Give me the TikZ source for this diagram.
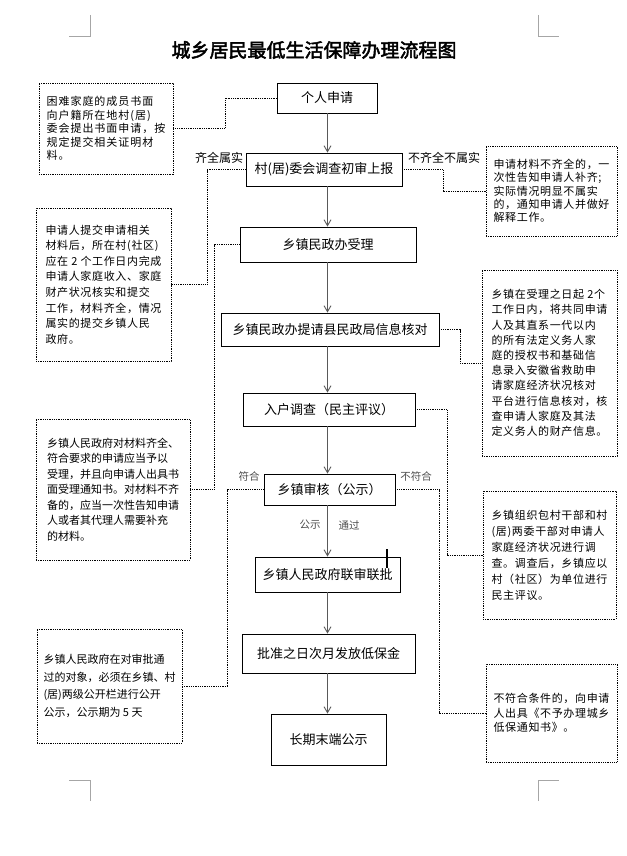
\documentclass[tikz,border=0pt]{standalone}
\usepackage{fontspec}
\setmainfont{Noto Sans CJK SC}
\newfontfamily\titlefont{Noto Sans CJK SC}[FakeBold=2.5]
\newfontfamily\notefont{Noto Sans CJK SC}[LetterSpace=6]
\usetikzlibrary{arrows.meta}
\tikzset{
  mainbox/.style={draw=black, line width=0.9pt, inner sep=0pt, font=\fontsize{13}{15}\selectfont},
  notebox/.style={draw=black, line width=0.8pt, dash pattern=on 0.9pt off 0.9pt, inner sep=0pt, align=left},
  noteline/.style={draw=black, line width=0.8pt, dash pattern=on 0.9pt off 0.9pt},
  flow/.style={draw=black!65, line width=1.1pt, -{Straight Barb[length=6pt,width=7pt,line width=0.9pt]}},
  lbl/.style={font=\fontsize{12}{14}\selectfont, inner sep=0pt},
  slbl/.style={font=\fontsize{10.5}{12}\selectfont, text=black!70, inner sep=0pt},
  corner/.style={draw=black!35, line width=0.6pt}
}
\begin{document}
\begin{tikzpicture}[x=1pt,y=-1pt]
\useasboundingbox (0,0) rectangle (626,856);
% corner marks
\draw[corner] (90,15) -- (90,36) -- (69,36);
\draw[corner] (538,15) -- (538,36) -- (559,36);
\draw[corner] (90,801) -- (90,780) -- (69,780);
\draw[corner] (538,801) -- (538,780) -- (559,780);
% title
\node[font=\titlefont\fontsize{19}{22}\selectfont, inner sep=0pt] (title) at (314,50) {城乡居民最低生活保障办理流程图};
% main boxes
\node[mainbox, minimum width=100pt, minimum height=30pt] (b1) at (327,98) {个人申请};
\node[mainbox, minimum width=156pt, minimum height=33pt] (b2) at (324,169.5) {村(居)委会调查初审上报};
\node[mainbox, minimum width=176pt, minimum height=35pt] (b3) at (328,244.5) {乡镇民政办受理};
\node[mainbox, minimum width=218pt, minimum height=33pt] (b4) at (330,329.5) {乡镇民政办提请县民政局信息核对};
\node[mainbox, minimum width=172pt, minimum height=33pt] (b5) at (329,409.5) {入户调查（民主评议）};
\node[mainbox, minimum width=131pt, minimum height=31pt] (b6) at (329.5,489.5) {乡镇审核（公示）};
\node[mainbox, minimum width=145pt, minimum height=35pt] (b7) at (327.5,574.5) {乡镇人民政府联审联批};
\node[mainbox, minimum width=173pt, minimum height=39pt] (b8) at (328.5,653.5) {批准之日次月发放低保金};
\node[mainbox, minimum width=115pt, minimum height=51pt] (b9) at (328.5,739.5) {长期末端公示};
% axis
\coordinate (ax) at (327.5,0);
\foreach \a/\b in {b1/b2,b2/b3,b3/b4,b4/b5,b5/b6,b6/b7,b7/b8,b8/b9}
  \draw[flow] (\a.south -| ax) -- (\b.north -| ax);
% notes
\node[notebox, minimum width=134pt, minimum height=91pt, font=\notefont\addfontfeatures{LetterSpace=9}\fontsize{11}{13.5}\selectfont] (nA) at (106,128.5)
  {困难家庭的成员书面\\向户籍所在地村(居)\\委会提出书面申请，按\\规定提交相关证明材\\料。};
\node[notebox, minimum width=131pt, minimum height=90pt, font=\notefont\fontsize{11}{13.3}\selectfont] (nB) at (551.5,191)
  {申请材料不齐全的，一\\次性告知申请人补齐;\\实际情况明显不属实\\的，通知申请人并做好\\解释工作。};
\node[notebox, minimum width=135pt, minimum height=153pt, font=\notefont\fontsize{11}{15.6}\selectfont] (nC) at (103.5,284.5)
  {申请人提交申请相关\\材料后，所在村(社区)\\应在 2 个工作日内完成\\申请人家庭收入、家庭\\财产状况核实和提交\\工作，材料齐全，情况\\属实的提交乡镇人民\\政府。};
\node[notebox, minimum width=135pt, minimum height=186pt, font=\notefont\fontsize{11}{15.2}\selectfont] (nD) at (549.5,363)
  {乡镇在受理之日起 2个\\工作日内，将共同申请\\人及其直系一代以内\\的所有法定义务人家\\庭的授权书和基础信\\息录入安徽省救助申\\请家庭经济状况核对\\平台进行信息核对，核\\查申请人家庭及其法\\定义务人的财产信息。};
\node[notebox, minimum width=154pt, minimum height=141pt, font=\notefont\addfontfeatures{LetterSpace=0}\fontsize{11}{15.5}\selectfont] (nE) at (113,489.5)
  {乡镇人民政府对材料齐全、\\符合要求的申请应当予以\\受理，并且向申请人出具书\\面受理通知书。对材料不齐\\备的，应当一次性告知申请\\人或者其代理人需要补充\\的材料。};
\node[notebox, minimum width=133pt, minimum height=128pt, font=\notefont\fontsize{11}{16}\selectfont] (nF) at (549.5,555)
  {乡镇组织包村干部和村\\(居)两委干部对申请人\\家庭经济状况进行调\\查。调查后，乡镇应以\\村（社区）为单位进行\\民主评议。};
\node[notebox, minimum width=145pt, minimum height=114pt, font=\notefont\addfontfeatures{LetterSpace=0}\fontsize{11}{17.5}\selectfont] (nG) at (109.5,686)
  {乡镇人民政府在对审批通\\过的对象，必须在乡镇、村\\(居)两级公开栏进行公开\\公示，公示期为 5 天};
\node[notebox, minimum width=131pt, minimum height=98pt, font=\notefont\fontsize{11}{14.7}\selectfont] (nH) at (551.5,713)
  {不符合条件的，向申请\\人出具《不予办理城乡\\低保通知书》。};
% elbow x positions
\coordinate (xA) at (225,0);
\coordinate (xB) at (443,0);
\coordinate (xC) at (207,0);
\coordinate (xE) at (214,0);
\coordinate (xD) at (460,0);
\coordinate (xF) at (447,0);
\coordinate (xG) at (227,0);
\coordinate (xH) at (439,0);
% note connectors
\draw[noteline] (nA.east) -- (nA.east -| xA) |- (b1.west);
\draw[noteline] (b2.east) -- (b2.east -| xB) |- (nB.west);
\draw[noteline] (b2.west) -- (b2.west -| xC) |- (nC.east);
\draw[noteline] (b3.west) -- (b3.west -| xE) |- (nE.east);
\draw[noteline] (b4.east) -- (b4.east -| xD) |- (nD.west);
\draw[noteline] (b5.east) -- (b5.east -| xF) |- (nF.west);
\draw[noteline] (b6.west) -- (b6.west -| xG) |- (nG.east);
\draw[noteline] (b6.east) -- (b6.east -| xH) |- (nH.west);
% labels
\node[lbl] (l1) at (219,157.5) {齐全属实};
\node[lbl] (l2) at (444,157.5) {不齐全不属实};
\node[slbl] (l3) at (249,476) {符合};
\node[slbl] (l4) at (416,476) {不符合};
\node[slbl] (l5) at (310,525) {公示};
\node[slbl] (l6) at (349,525) {通过};
% stray cursor mark
\draw[line width=1.2pt] (387,549) -- (387,568);
\end{tikzpicture}
\end{document}
